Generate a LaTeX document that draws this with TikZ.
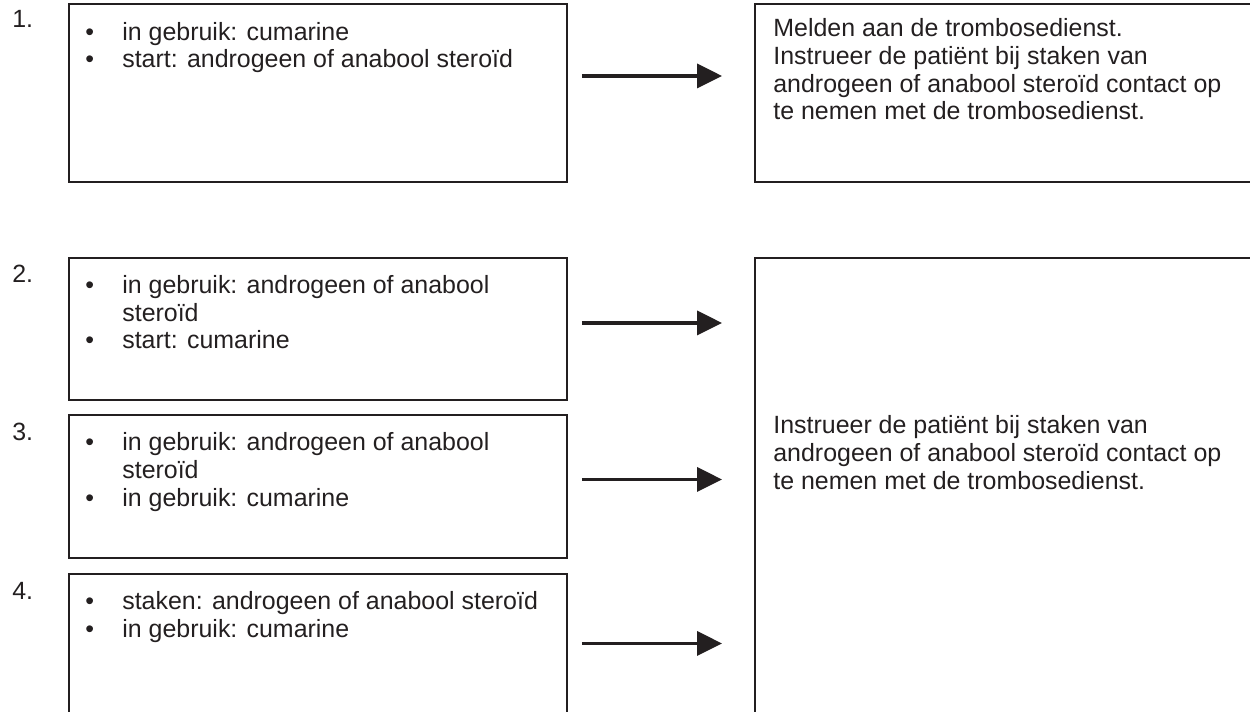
\documentclass[tikz,border=0pt]{standalone}
\usepackage{fontspec}
\setmainfont{Liberation Sans}
\usepackage{xcolor}
\usepackage{tikz}
\usetikzlibrary{positioning,arrows.meta}
\definecolor{lijn}{HTML}{231F20}
\newcommand{\punt}[1]{\makebox[0.74cm][l]{\textbullet}#1}
\newcommand{\inspring}{\hspace*{0.74cm}}

\begin{document}
\begin{tikzpicture}[x=0.02cm,y=-0.02cm,
  vak/.style={draw=lijn,line width=1.1pt,anchor=north west,inner sep=0pt,minimum width=9.96cm},
  rvak/.style={draw=lijn,line width=1.1pt,anchor=north west,inner sep=0pt,minimum width=10.4cm},
  tekst/.style={anchor=base west,inner sep=0pt,align=left,text=lijn,font=\fontsize{14.2pt}{15.8pt}\selectfont},
  pijl/.style={draw=lijn,line width=2pt,-{Triangle[length=0.5cm,width=0.48cm]},shorten <=0.28cm,shorten >=0.64cm}]
\useasboundingbox (0,0) rectangle (1250,712);
\clip (0,0) rectangle (1250,712);

\node[vak,minimum height=3.56cm] (b1) at (68,3) {};
\node[vak,minimum height=2.84cm] (b2) at (68,257) {};
\node[vak,minimum height=2.86cm] (b3) at (68,414) {};
\node[vak,minimum height=2.9cm] (b4) at (68,573) {};
\node[rvak,minimum height=3.56cm] (r1) at (754,3) {};
\node[rvak,minimum height=9.4cm] (r2) at (754,257) {};

\node[tekst] (n1) at (12,28) {1.};
\node[tekst] (n2) at (12,283) {2.};
\node[tekst] (n3) at (12,440) {3.};
\node[tekst] (n4) at (12,599) {4.};

% base = last line of each text
\node[tekst] (t1) at (85,68) {\punt{in gebruik: cumarine}\\\punt{start: androgeen of anabool steroïd}};
\node[tekst] (t2) at (85,349) {\punt{in gebruik: androgeen of anabool}\\\inspring steroïd\\\punt{start: cumarine}};
\node[tekst] (t3) at (85,506) {\punt{in gebruik: androgeen of anabool}\\\inspring steroïd\\\punt{in gebruik: cumarine}};
\node[tekst] (t4) at (85,637) {\punt{staken: androgeen of anabool steroïd}\\\punt{in gebruik: cumarine}};

\node[tekst] (u1) at (773,120) {Melden aan de trombosedienst.\\Instrueer de patiënt bij staken van\\androgeen of anabool steroïd contact op\\te nemen met de trombosedienst.};
\node[tekst] (u2) at (773,489) {Instrueer de patiënt bij staken van\\androgeen of anabool steroïd contact op\\te nemen met de trombosedienst.};

\draw[pijl] ([yshift=0.34cm]b1.east) -- ([yshift=0.34cm]r1.west);
\draw[pijl] ([yshift=0.12cm]b2.east) -- ([yshift=0.12cm]b2.east -| r2.west);
\draw[pijl] ([yshift=0.14cm]b3.east) -- ([yshift=0.14cm]b3.east -| r2.west);
\draw[pijl] ([yshift=0.06cm]b4.east) -- ([yshift=0.06cm]b4.east -| r2.west);

\end{tikzpicture}
\end{document}
